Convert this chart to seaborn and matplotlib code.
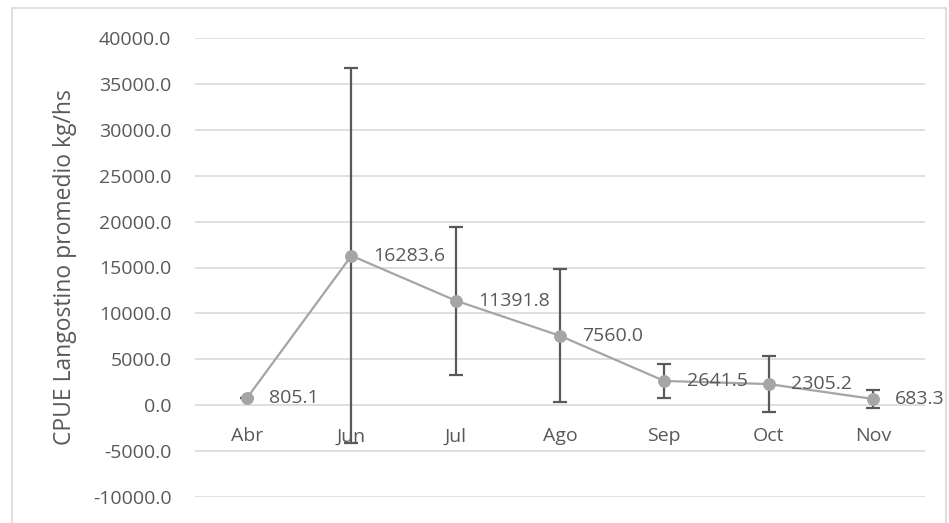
import matplotlib
matplotlib.use("Agg")
import matplotlib.pyplot as plt
import seaborn as sns
import pandas as pd
from matplotlib.patches import Rectangle

meses = ["Abr", "Jun", "Jul", "Ago", "Sep", "Oct", "Nov"]
cpue = [805.1, 16283.6, 11391.8, 7560.0, 2641.5, 2305.2, 683.3]
error = [0, 20430, 8050, 7250, 1900, 3050, 1000]
yticks = list(range(-10000, 40001, 5000))
ylabel = "CPUE Langostino promedio kg/hs"

df = pd.DataFrame({"mes": meses, "cpue": cpue, "err": error})

sns.set_theme(style="white")
plt.rcParams["font.family"] = ["Open Sans", "DejaVu Sans"]

txt = "#595959"
fs = 14
fig = plt.figure(figsize=(9.49, 5.23), dpi=100)
ax = fig.add_axes([195/949, 1-497/523, (925-195)/949, (497-38)/523])

fig.patches.append(Rectangle((12/949, -0.1), (946-12)/949, 1 - 8/523 + 0.1,
                             transform=fig.transFigure, fill=False,
                             edgecolor="#D9D9D9", linewidth=1.2, zorder=0))

pos = list(range(len(meses)))
ax.errorbar(pos, df["cpue"], yerr=df["err"], fmt="none", ecolor="#595959",
            elinewidth=1.6, capsize=5, capthick=1.6, zorder=3)
sns.lineplot(data=df, x=pos, y="cpue", ax=ax, color="#A5A5A5", linewidth=1.6,
             marker="o", markersize=8.5, markeredgecolor="#A5A5A5", zorder=4)

for p, v in zip(pos, cpue):
    ax.annotate(f"{v:.1f}", (p, v), xytext=(16, 0), textcoords="offset points",
                ha="left", va="center", fontsize=fs, color=txt, zorder=5)

ax.set_xlim(-0.5, len(meses) - 0.5)
ax.set_ylim(yticks[0], yticks[-1])
ax.set_yticks(yticks)
ax.set_yticklabels([f"{t:.1f}" for t in yticks])
ax.set_xticks(pos)
ax.set_xticklabels(meses)
ax.yaxis.grid(True, color="#D9D9D9", linewidth=1.2)
ax.set_axisbelow(True)
for s in ["left", "right", "top"]:
    ax.spines[s].set_visible(False)
ax.spines["bottom"].set_position(("data", 0))
ax.spines["bottom"].set_color("none")
ax.tick_params(axis="both", length=0, labelsize=fs, labelcolor=txt)
ax.tick_params(axis="x", pad=16)
ax.tick_params(axis="y", pad=17)
ax.set_xlabel("")
ax.set_ylabel(ylabel, fontsize=16.5, color=txt)
ax.yaxis.set_label_coords(-0.162, 0.5)

fig.savefig("out.png", dpi=100)
